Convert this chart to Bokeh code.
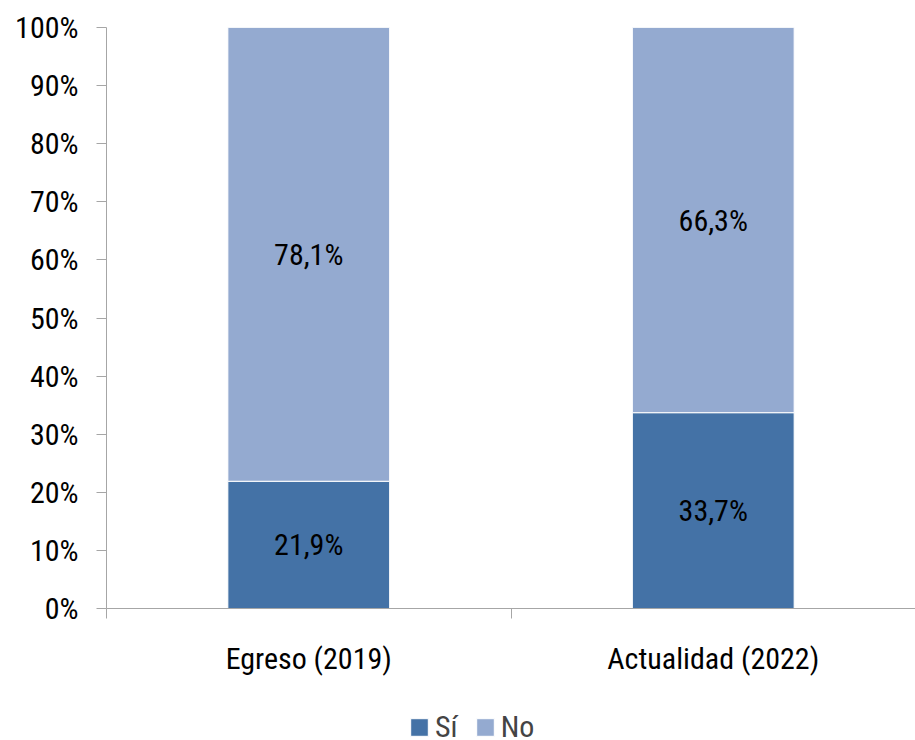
from bokeh.plotting import figure
from bokeh.layouts import column
from bokeh.models import ColumnDataSource, FixedTicker, NumeralTickFormatter, Range1d, Legend, LegendItem
from bokeh.core.properties import value
from bokeh.embed import file_html
from bokeh.resources import INLINE

categories = ["Egreso (2019)", "Actualidad (2022)"]
si = [21.9, 33.7]
no = [78.1, 66.3]
series_names = ["Sí", "No"]
colors = ["#4472A6", "#94AAD0"]

FONT = "Roboto Condensed"
FS = "30px"

xs = [i + 0.5 for i in range(len(categories))]
src = ColumnDataSource(dict(
    x=xs,
    si=[v / 100 for v in si],
    no=[v / 100 for v in no],
))

p = figure(width=915, height=690, output_backend="svg", toolbar_location=None,
           x_range=Range1d(0, len(categories)), y_range=Range1d(0, 1),
           min_border_left=106, min_border_top=27, min_border_right=0, min_border_bottom=82)

rs = p.vbar_stack(["si", "no"], x="x", width=0.4, source=src, color=colors,
                  line_color="white", line_width=1)

# data labels
lab_x, lab_y, lab_t = [], [], []
for i, x in enumerate(xs):
    lab_x.append(x); lab_y.append(si[i] / 200); lab_t.append(f"{si[i]:.1f}%".replace(".", ","))
    lab_x.append(x); lab_y.append((si[i] + no[i] / 2) / 100); lab_t.append(f"{no[i]:.1f}%".replace(".", ","))
p.text(x=lab_x, y=lab_y, text=lab_t, text_align="center", text_baseline="middle",
       text_font=value(FONT), text_font_size=FS, text_color="black")

p.xgrid.visible = False
p.ygrid.visible = False
p.outline_line_color = None

ax_col = "#A6A6A6"
# y axis
p.yaxis.ticker = FixedTicker(ticks=[i / 10 for i in range(11)])
p.yaxis.formatter = NumeralTickFormatter(format="0%")
p.yaxis.axis_line_color = ax_col
p.yaxis.major_tick_line_color = ax_col
p.yaxis.major_tick_out = 10
p.yaxis.major_tick_in = 0
p.yaxis.minor_tick_line_color = None
p.yaxis.major_label_text_font = FONT
p.yaxis.major_label_text_font_size = FS
p.yaxis.major_label_text_color = "black"
p.yaxis.major_label_standoff = 18

# x axis
p.xaxis.ticker = FixedTicker(ticks=xs, minor_ticks=list(range(len(categories) + 1)))
p.xaxis.major_label_overrides = {x: c for x, c in zip(xs, categories)}
p.xaxis.axis_line_color = ax_col
p.xaxis.major_tick_line_color = None
p.xaxis.major_tick_out = 0
p.xaxis.major_tick_in = 0
p.xaxis.minor_tick_line_color = ax_col
p.xaxis.minor_tick_out = 10
p.xaxis.minor_tick_in = 0
p.xaxis.major_label_text_font = FONT
p.xaxis.major_label_text_font_size = FS
p.xaxis.major_label_text_color = "black"
p.xaxis.major_label_standoff = 22

# legend strip (same series, bars kept outside its visible range)
p2 = figure(width=915, height=50, output_backend="svg", toolbar_location=None,
            x_range=Range1d(0, len(categories)), y_range=Range1d(5, 6),
            x_axis_location=None, y_axis_location=None,
            min_border_left=0, min_border_right=0, min_border_top=0, min_border_bottom=0)
p2.xgrid.visible = False
p2.ygrid.visible = False
p2.outline_line_color = None
rs2 = p2.vbar_stack(["si", "no"], x="x", width=0.4, source=src, color=colors,
                    line_color="white", line_width=1)

legend = Legend(items=[LegendItem(label=n, renderers=[r]) for n, r in zip(series_names, rs2)],
                orientation="horizontal", location=(302, -4),
                label_text_font=FONT, label_text_font_size=FS,
                glyph_width=22, glyph_height=22, label_standoff=5, spacing=16,
                border_line_color=None, background_fill_alpha=0,
                padding=0, margin=0, label_height=20, label_width=10)
p2.add_layout(legend, "center")

open("out.html", "w").write(file_html(column(p, p2, spacing=0), INLINE))
